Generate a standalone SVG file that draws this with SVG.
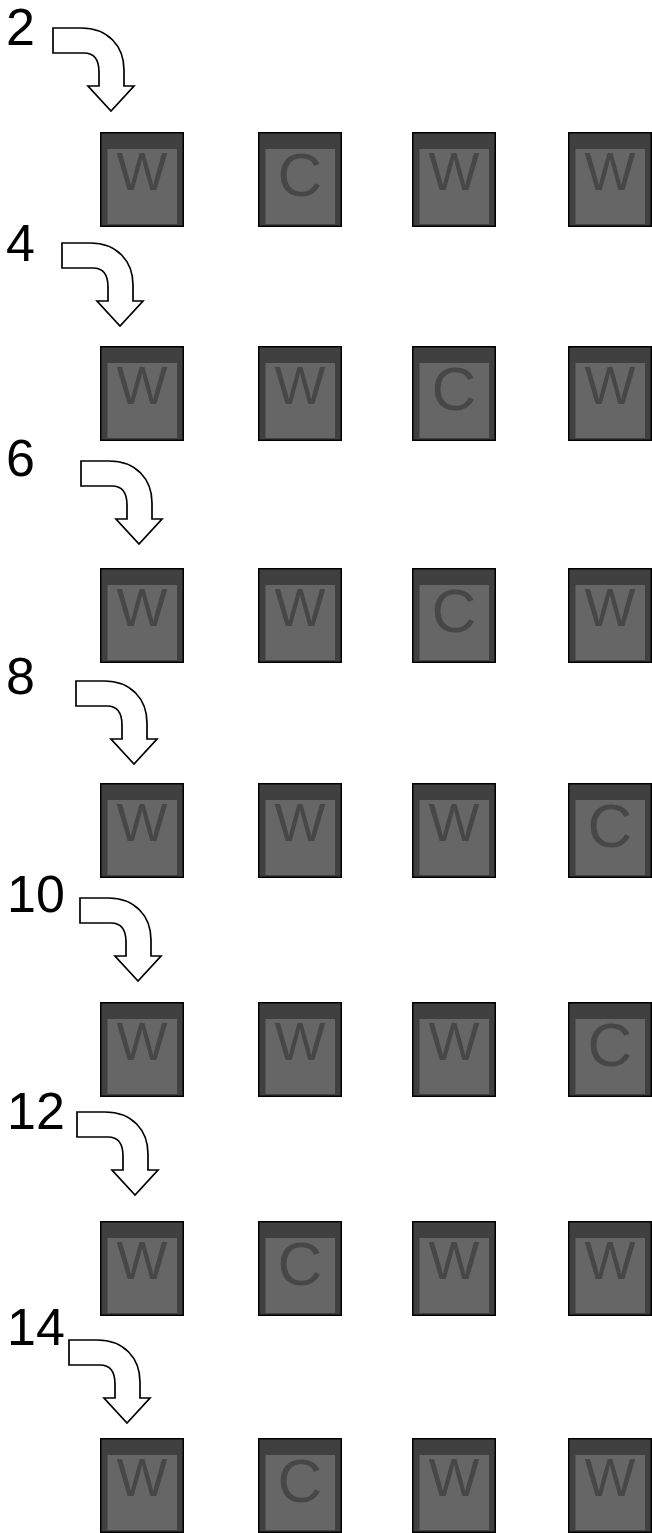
<svg xmlns="http://www.w3.org/2000/svg" width="652" height="1533" viewBox="0 0 652 1533">
<style>
.num{font-family:"Liberation Sans",Arial,sans-serif;font-size:52px;fill:#000}
.outer{fill:#404040;stroke:#000;stroke-width:1.5}
.inner{fill:#666666}
.w{font-family:"Liberation Sans",Arial,sans-serif;font-size:54px;fill:#474747;text-anchor:middle}
.c{font-family:"Liberation Sans",Arial,sans-serif;font-size:62px;fill:#474747;text-anchor:middle}
.arrow{fill:#fff;stroke:#000;stroke-width:1.7;stroke-linejoin:miter}
</style>
<defs>
<path id="arr" class="arrow" d="M0,0 H28 C55,0 71,18 71,42 V58 H81 L58,83 L35,58 H46 V44 C46,31 41,25 31,25 H0 Z"/>
<g id="boxbg"><rect class="outer" x="0.75" y="0.75" width="82.5" height="93.5"/><rect class="inner" x="7.5" y="17" width="69.5" height="75"/></g>
</defs>
<g id="labels">
<text class="num" x="6" y="45">2</text>
<text class="num" x="6" y="261">4</text>
<text class="num" x="6" y="476">6</text>
<text class="num" x="6" y="694">8</text>
<text class="num" x="7" y="912">10</text>
<text class="num" x="7" y="1129">12</text>
<text class="num" x="7" y="1345">14</text>
</g>
<g id="connectors">
<use href="#arr" transform="translate(53,28)"/>
<use href="#arr" transform="translate(62,243)"/>
<use href="#arr" transform="translate(81,461)"/>
<use href="#arr" transform="translate(76,681)"/>
<use href="#arr" transform="translate(80,898)"/>
<use href="#arr" transform="translate(77,1112)"/>
<use href="#arr" transform="translate(69,1340)"/>
</g>
<!-- row 1 -->
<g id="r1c1" transform="translate(100,132)"><use href="#boxbg"/><text class="w" x="42" y="58">W</text></g>
<g id="r1c2" transform="translate(258,132)"><use href="#boxbg"/><text class="c" x="42" y="64">C</text></g>
<g id="r1c3" transform="translate(412,132)"><use href="#boxbg"/><text class="w" x="42" y="58">W</text></g>
<g id="r1c4" transform="translate(568,132)"><use href="#boxbg"/><text class="w" x="42" y="58">W</text></g>
<!-- row 2 -->
<g id="r2c1" transform="translate(100,346)"><use href="#boxbg"/><text class="w" x="42" y="58">W</text></g>
<g id="r2c2" transform="translate(258,346)"><use href="#boxbg"/><text class="w" x="42" y="58">W</text></g>
<g id="r2c3" transform="translate(412,346)"><use href="#boxbg"/><text class="c" x="42" y="64">C</text></g>
<g id="r2c4" transform="translate(568,346)"><use href="#boxbg"/><text class="w" x="42" y="58">W</text></g>
<!-- row 3 -->
<g id="r3c1" transform="translate(100,568)"><use href="#boxbg"/><text class="w" x="42" y="58">W</text></g>
<g id="r3c2" transform="translate(258,568)"><use href="#boxbg"/><text class="w" x="42" y="58">W</text></g>
<g id="r3c3" transform="translate(412,568)"><use href="#boxbg"/><text class="c" x="42" y="64">C</text></g>
<g id="r3c4" transform="translate(568,568)"><use href="#boxbg"/><text class="w" x="42" y="58">W</text></g>
<!-- row 4 -->
<g id="r4c1" transform="translate(100,783)"><use href="#boxbg"/><text class="w" x="42" y="58">W</text></g>
<g id="r4c2" transform="translate(258,783)"><use href="#boxbg"/><text class="w" x="42" y="58">W</text></g>
<g id="r4c3" transform="translate(412,783)"><use href="#boxbg"/><text class="w" x="42" y="58">W</text></g>
<g id="r4c4" transform="translate(568,783)"><use href="#boxbg"/><text class="c" x="42" y="64">C</text></g>
<!-- row 5 -->
<g id="r5c1" transform="translate(100,1002)"><use href="#boxbg"/><text class="w" x="42" y="58">W</text></g>
<g id="r5c2" transform="translate(258,1002)"><use href="#boxbg"/><text class="w" x="42" y="58">W</text></g>
<g id="r5c3" transform="translate(412,1002)"><use href="#boxbg"/><text class="w" x="42" y="58">W</text></g>
<g id="r5c4" transform="translate(568,1002)"><use href="#boxbg"/><text class="c" x="42" y="64">C</text></g>
<!-- row 6 -->
<g id="r6c1" transform="translate(100,1221)"><use href="#boxbg"/><text class="w" x="42" y="58">W</text></g>
<g id="r6c2" transform="translate(258,1221)"><use href="#boxbg"/><text class="c" x="42" y="64">C</text></g>
<g id="r6c3" transform="translate(412,1221)"><use href="#boxbg"/><text class="w" x="42" y="58">W</text></g>
<g id="r6c4" transform="translate(568,1221)"><use href="#boxbg"/><text class="w" x="42" y="58">W</text></g>
<!-- row 7 -->
<g id="r7c1" transform="translate(100,1438)"><use href="#boxbg"/><text class="w" x="42" y="58">W</text></g>
<g id="r7c2" transform="translate(258,1438)"><use href="#boxbg"/><text class="c" x="42" y="64">C</text></g>
<g id="r7c3" transform="translate(412,1438)"><use href="#boxbg"/><text class="w" x="42" y="58">W</text></g>
<g id="r7c4" transform="translate(568,1438)"><use href="#boxbg"/><text class="w" x="42" y="58">W</text></g>
</svg>
